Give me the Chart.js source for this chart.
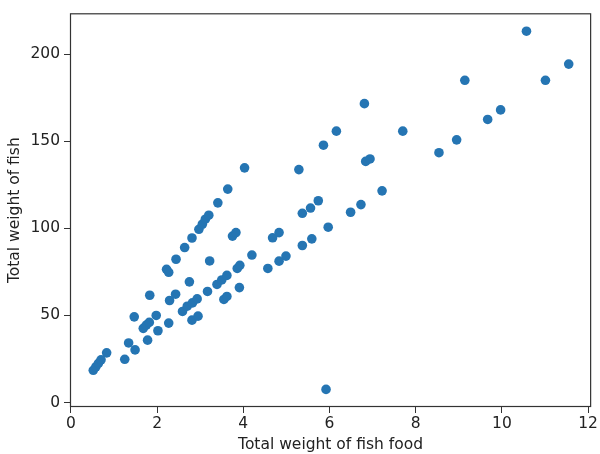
<!DOCTYPE html>
<html>
<head>
<meta charset="utf-8">
<script src="https://cdn.jsdelivr.net/npm/chart.js@4/dist/chart.umd.min.js"></script>
<style>
  html, body { margin: 0; padding: 0; background: #fff; }
  #wrap { width: 600px; height: 454px; }
</style>
</head>
<body>
<div id="wrap"><canvas id="fishChart" width="600" height="454"></canvas></div>
<script>
// food weight (x) and fish weight (y)
const foodWeight = [
  0.52, 0.58, 0.64, 0.70, 0.83, 1.25, 1.34, 1.49, 1.47, 1.68,
  1.75, 1.82, 1.78, 1.83, 1.98, 2.02, 2.27, 2.22, 2.27, 2.29,
  2.43, 2.44, 2.59, 2.64, 2.70, 2.75, 2.81, 2.82, 2.81, 2.93,
  2.95, 2.97, 3.05, 3.12, 3.20, 3.17, 3.22, 3.39, 3.41, 3.50,
  3.55, 3.62, 3.62, 3.64, 3.75, 3.83, 3.86, 3.92, 3.91, 4.03,
  4.20, 4.57, 4.68, 4.83, 4.83, 4.99, 5.29, 5.37, 5.37, 5.56,
  5.59, 5.74, 5.86, 5.92, 5.97, 6.16, 6.49, 6.73, 6.81, 6.84,
  6.94, 7.22, 7.70, 8.54, 8.95, 9.14, 9.67, 9.97, 10.57, 11.01,
  11.55
];
const fishWeight = [
  18.5, 20.5, 22.5, 24.5, 28.5, 24.8, 34.2, 30.2, 49.2, 42.6,
  44.5, 46.0, 35.8, 61.6, 50.0, 41.2, 45.6, 76.5, 74.8, 58.6,
  62.2, 82.3, 52.3, 89.0, 55.3, 69.3, 94.5, 57.2, 47.3, 59.5,
  49.6, 99.5, 102.4, 105.3, 107.6, 63.8, 81.3, 67.8, 114.7, 70.4,
  59.2, 60.9, 73.0, 122.6, 95.6, 97.6, 77.0, 78.8, 66.0, 134.8,
  84.7, 77.0, 94.6, 97.6, 81.2, 84.1, 133.8, 90.2, 108.7, 111.7,
  94.0, 115.9, 147.8, 7.5, 100.7, 155.9, 109.3, 113.7, 171.7, 138.5,
  139.9, 121.6, 155.9, 143.5, 150.9, 185.1, 162.6, 168.1, 213.3, 185.1,
  194.4
];
const xTicks = [0, 2, 4, 6, 8, 10, 12];
const yTicks = [0, 50, 100, 150, 200];

const points = foodWeight.map((x, i) => ({ x: x, y: fishWeight[i] }));

// matplotlib-style box around the plot area
const frame = {
  id: 'frame',
  afterDraw(chart) {
    const a = chart.chartArea, c = chart.ctx;
    c.save();
    c.strokeStyle = '#333';
    c.lineWidth = 1.2;
    c.strokeRect(a.left + 0.5, a.top + 0.5, a.right - a.left - 1, a.bottom - a.top - 1);
    c.restore();
  }
};

const textFont = { family: 'DejaVu Sans', size: 15.5 };

new Chart(document.getElementById('fishChart'), {
  type: 'scatter',
  data: {
    datasets: [{
      data: points,
      backgroundColor: '#2575b3',
      borderColor: '#2575b3',
      borderWidth: 0,
      pointRadius: 4.8,
      pointHoverRadius: 4.8
    }]
  },
  plugins: [frame],
  options: {
    responsive: false,
    animation: false,
    events: [],
    layout: { padding: { top: 12, right: 1, left: 0, bottom: 0 } },
    plugins: { legend: { display: false }, tooltip: { enabled: false } },
    scales: {
      x: {
        type: 'linear',
        min: -0.02,
        max: 12.07,
        afterBuildTicks: s => { s.ticks = xTicks.map(v => ({ value: v })); },
        afterFit: s => { s.height = 47; },
        grid: { drawOnChartArea: false, drawTicks: true, tickLength: 6, color: '#333' },
        border: { display: false },
        ticks: { color: '#222', font: textFont, padding: 2, maxRotation: 0 },
        title: { display: true, text: 'Total weight of fish food', color: '#222', font: textFont, padding: { top: 0, bottom: 0 } }
      },
      y: {
        type: 'linear',
        min: -2.6,
        max: 223.6,
        afterBuildTicks: s => { s.ticks = yTicks.map(v => ({ value: v })); },
        afterFit: s => { s.width = 70; },
        grid: { drawOnChartArea: false, drawTicks: true, tickLength: 6, color: '#333' },
        border: { display: false },
        ticks: { color: '#222', font: textFont, padding: 4 },
        title: { display: true, text: 'Total weight of fish', color: '#222', font: textFont, padding: { top: 6, bottom: 0 } }
      }
    }
  }
});
</script>
</body>
</html>
